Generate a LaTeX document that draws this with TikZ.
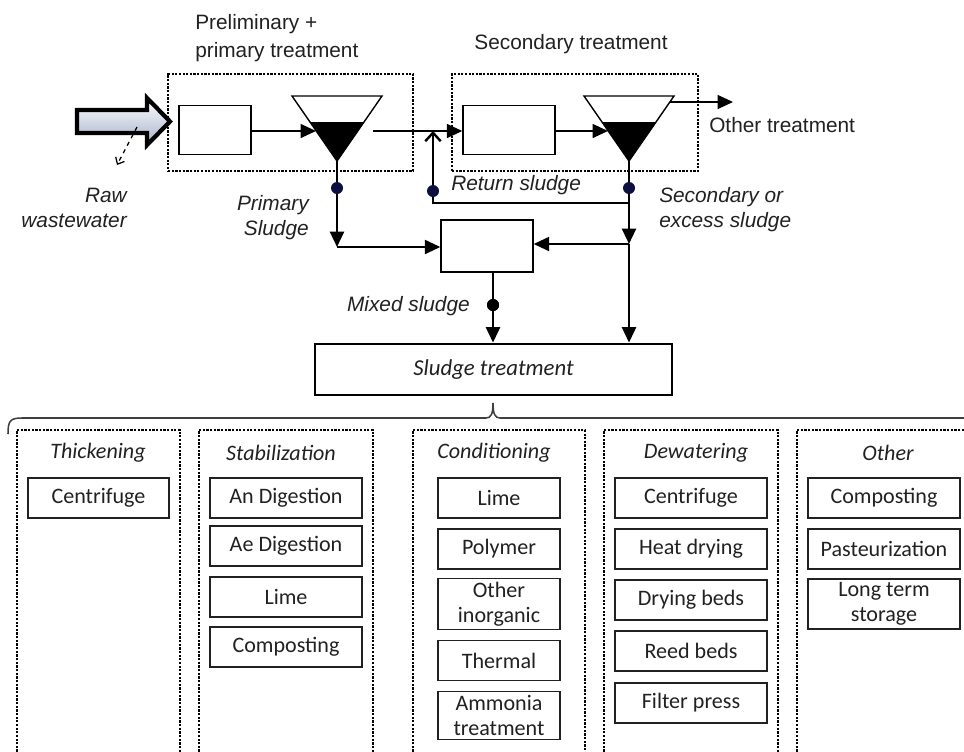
\documentclass[tikz,border=0pt]{standalone}
\usepackage{fontspec}
\setmainfont{Liberation Sans}
\newfontfamily\calibri{Carlito}
\usetikzlibrary{arrows.meta,calc,positioning}
\newcommand{\flowfont}{\fontsize{14.8pt}{17.8pt}\selectfont}
\newcommand{\unitfont}{\calibri\fontsize{15.7pt}{18pt}\selectfont}
\definecolor{ink}{gray}{0.13}
\definecolor{dotblue}{rgb}{0.05,0.06,0.25}
\definecolor{arrowshade}{RGB}{165,178,202}
\tikzset{
	flowtip/.style={-{Triangle[length=11pt,width=10pt]}},
	flow/.style={line width=0.9pt,flowtip},
	sludgeline/.style={line width=1.7pt,flowtip},
	unitbox/.style={draw,line width=1pt,minimum height=1.225cm},
	groupbox/.style={draw,line width=0.8pt,dash pattern=on 1.6pt off 1pt},
	sdot/.style={circle,fill=dotblue,inner sep=0pt,minimum size=0.3cm},
	txt/.style={font=\flowfont,text=ink,inner sep=0pt},
	stepitem/.style={draw=ink,line width=1pt,font=\unitfont,text=ink,align=center,inner xsep=1pt,inner ysep=2.5pt,minimum height=1cm},
}
\begin{document}
\begin{tikzpicture}[x=0.025cm,y=-0.025cm]
			\useasboundingbox (0,0) rectangle (964,751);
			\clip (0,0) rectangle (964,751);
			% upper flow sheet
			\node[groupbox,minimum width=6.125cm,minimum height=2.425cm] (prim) at (290.5,122.5) {};
			\node[groupbox,minimum width=6.15cm,minimum height=2.425cm] (secg) at (575,122.5) {};
			\node[unitbox,minimum width=1.8cm] (pre) at (215,130) {};
			\node[unitbox,minimum width=2.3cm] (sec) at (509,130) {};
			\node[unitbox,minimum width=2.3cm,minimum height=1.3cm] (mix) at (487,246) {};
			\node[draw,line width=2pt,minimum width=8.925cm,minimum height=1.275cm,font=\calibri\fontsize{16.2pt}{19pt}\selectfont\itshape,text=ink] (sludge) at (493.5,369.5) {Sludge treatment};
			\foreach \n/\x in {cl1/337,cl2/629}{
				\draw[line width=1pt,fill=white] (\x-45,96) -- (\x+45,96) -- (\x,161) -- cycle;
				\fill (\x-27,122) -- (\x+27,122) -- (\x,161) -- cycle;
				\coordinate (\n) at (\x,161);
				\coordinate (\n-in) at (\x-21,131);
			}
			\coordinate (cl1-out) at (373,131);
			\coordinate (cl2-top) at (670,102);
			\coordinate (outlet) at (733,102);
			\coordinate (j1) at (337,247);
			\coordinate (j2) at (629,244);
			\coordinate (ret) at (433,203);
			\coordinate (rawa) at (137,127);
			\coordinate (rawb) at (117,165);
			\draw[line width=3pt,line join=miter,top color=white,bottom color=arrowshade] (77,110) -- (147,110) -- (147,98) -- (170,121.5) -- (147,145) -- (147,133) -- (77,133) -- cycle;
			\draw[dashed,line width=0.9pt,-{Straight Barb[length=4pt,width=7pt]}] (rawa) -- (rawb);
			\draw[flow] (pre.east |- cl1-in) -- (cl1-in);
			\draw[flow] (cl1-out) -- (cl1-out -| sec.west);
			\draw[flow] (sec.east |- cl2-in) -- (cl2-in);
			\draw[flow] (cl2-top) -- (outlet);
			\node[sdot,fill=black] (dm) at (493,305) {};
			\draw[sludgeline] (cl1) -- (j1);
			\draw[line width=1.4pt,flowtip] (j1) -- (j1 -| mix.west);
			\draw[sludgeline] (cl2) -- (j2);
			\draw[sludgeline] (j2) -- (j2 |- sludge.north);
			\draw[line width=1.4pt,flowtip] (j2) -- (j2 -| mix.east);
			\draw[line width=1.7pt,-{Straight Barb[length=6pt,width=11pt]}] (cl2 |- ret) -- (ret) -- (ret |- cl1-out);
			\draw[sludgeline] (mix.south -| dm) -- (dm |- sludge.north);
			\node[sdot] (dp) at (337,188) {};
			\node[sdot] (ds) at (629,188) {};
			\node[sdot] (dr) at (433,191) {};
			\node[sdot,fill=black] at (dm) {};
			% labels
			\node[txt,anchor=north west,align=left,font=\fontsize{14.8pt}{20pt}\selectfont] (primtxt) at (195,14) {Preliminary +\\primary treatment};
			\node[txt] (sectxt) at (571,44) {Secondary treatment};
			\node[txt,anchor=west] (othtxt) at (709,125) {Other treatment};
			\node[txt,anchor=east,align=right,font=\flowfont\itshape] (rawtxt) at (127,208) {Raw\\wastewater};
			\node[txt,anchor=east,align=right,font=\flowfont\itshape] (pstxt) at (309,218) {Primary\\Sludge};
			\node[txt,anchor=west,font=\flowfont\itshape] (rettxt) at (451,185) {Return sludge};
			\node[txt,anchor=west,align=left,font=\flowfont\itshape] (exstxt) at (659,210) {Secondary or\\excess sludge};
			\node[txt,anchor=east,font=\flowfont\itshape] (mixtxt) at (470,306) {Mixed sludge};
			% brace
			\draw[line width=1.1pt,draw=black!75] (8,434) .. controls (8,421) and (10,418) .. (22,418) -- (486,418) .. controls (491,418) and (493,414) .. (493,403) .. controls (493,414) and (495,418) .. (500,418) -- (970,418);
			% treatment options
			\foreach \cname/\xl/\xr/\hx/\head in {thick/17/180/98/Thickening,stab/199/373/281/Stabilization,cond/413/585/494/Conditioning,dew/604/778/696/Dewatering,oth/797/985/888/Other}{
				\draw[groupbox] (\xl,770) |- (\xr,430) -- (\xr,770);
				\node[font=\unitfont\itshape,text=ink,inner sep=0pt] (\cname-head) at (\hx,453) {\head};
			}
			\foreach \t/\y [count=\i] in {Centrifuge/498}
				\node[stepitem,minimum width=3.525cm] (thick-\i) at (98.5,\y) {\t};
			\foreach \t/\y [count=\i] in {An Digestion/498,Ae Digestion/546,Lime/597,Composting/647}
				\node[stepitem,minimum width=3.8cm] (stab-\i) at (286,\y) {\t};
			\foreach \t/\y [count=\i] in {Lime/498,Polymer/549,{Other\\inorganic}/604,Thermal/660.5,{Ammonia\\treatment}/715.5}
				\node[stepitem,minimum width=3.05cm] (cond-\i) at (499,\y) {\t};
			\foreach \t/\y [count=\i] in {Centrifuge/498,Heat drying/549,Drying beds/600,Reed beds/651,Filter press/703}
				\node[stepitem,minimum width=3.8cm] (dew-\i) at (691,\y) {\t};
			\foreach \t/\y [count=\i] in {Composting/498,Pasteurization/549,{Long term\\storage}/604}
				\node[stepitem,minimum width=3.8cm] (oth-\i) at (884,\y) {\t};
\end{tikzpicture}
\end{document}
